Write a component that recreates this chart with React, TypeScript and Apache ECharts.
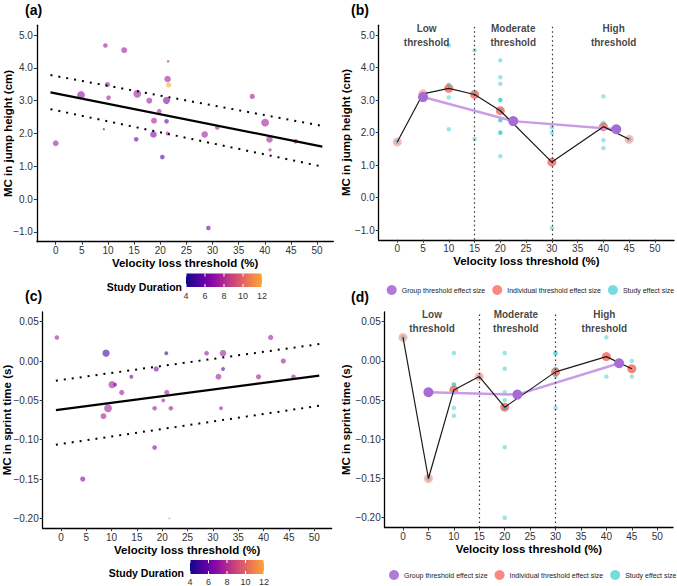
import React, { useEffect, useRef } from "react";
import * as echarts from "echarts";

const FONT = "'Liberation Sans', Arial, Helvetica, sans-serif";

// ---------- shared ticks / labels ----------
const xTicks = [0, 5, 10, 15, 20, 25, 30, 35, 40, 45, 50];
const yTicksJump = [-1, 0, 1, 2, 3, 4, 5];
const yTicksSprint = [-0.2, -0.15, -0.1, -0.05, 0, 0.05];
const durationTicks = [4, 6, 8, 10, 12];
const plasma = ["#0d0887", "#41049d", "#6a00a8", "#8f0da4", "#b12a90", "#cc4778", "#e16462", "#f2844b", "#fca636"];
const zoneBounds = [15, 30];
const zoneLabels = ["Low\nthreshold", "Moderate\nthreshold", "High\nthreshold"];
const zoneLabelXB = [5.7, 22.5, 42];
const zoneLabelXD = [5.7, 22.2, 39.6];
const legendNames = ["Group threshold effect size", "Individual threshold effect size", "Study effect size"];

// ---------- panel (a): jump height meta-regression ----------
const aThreshold = [0, 4.85, 9.5, 13.1, 9.9, 10.1, 9.2, 15.6, 15.4, 17.9, 18.8, 18.7, 19.8, 20.4, 21.2, 21.2, 21.4, 21.5, 21.6, 21.4, 28.5, 29.2, 30.9, 37.6, 40.05, 40.9, 41.0, 45.9];
const aEffect = [1.70, 3.17, 4.68, 4.54, 3.49, 3.09, 2.13, 3.21, 1.82, 3.0, 2.39, 1.97, 2.68, 1.28, 3.01, 2.37, 3.66, 4.2, 3.48, 2.0, 1.97, -0.88, 2.18, 3.13, 2.33, 1.82, 1.50, 1.76];
const aDuration = [7.5, 7, 7.5, 7.5, 7.5, 7.5, 4.5, 7.5, 6, 7.5, 7.5, 6.5, 7.5, 5, 6.5, 6, 7.5, 7.5, 12, 7.5, 7.5, 6, 7.5, 7.5, 7.5, 7.5, 7.5, 7.5];
const aWeight = [6, 9, 4, 6, 5, 4, 0.5, 9, 4, 6, 6, 7, 4, 4, 8, 4, 7, 1, 5, 3, 7, 4, 4, 5, 9, 7, 2, 4];
const fitX = [-1, 51];
const aFit = [3.25, 1.60];
const aUpper = [3.78, 2.23];
const aLower = [2.74, 0.99];

// ---------- panel (b): jump height by threshold ----------
const bStudyX = [0, 5, 10, 10, 10, 10, 15, 15, 15, 20, 20, 20, 20, 20, 20, 20, 20, 20, 20, 20, 30, 30, 30, 40, 40, 40, 40, 45];
const bStudyY = [1.71, 3.19, 4.68, 3.47, 3.08, 2.10, 4.53, 3.19, 1.80, 4.22, 3.70, 3.50, 3.0, 3.0, 2.68, 2.38, 2.38, 2.0, 1.99, 1.27, 2.16, 1.99, -0.94, 3.11, 2.30, 1.76, 1.52, 1.79];
const bIndivX = [0, 5, 10, 15, 20, 30, 40, 45];
const bIndivY = [1.71, 3.19, 3.36, 3.17, 2.67, 1.09, 2.18, 1.79];
const bGroupX = [5, 22.5, 42.5];
const bGroupY = [3.09, 2.35, 2.10];

// ---------- panel (c): sprint time meta-regression ----------
const cThreshold = [-0.8, 8.9, 20.8, 28.75, 32.0, 41.4, 43.9, 32.0, 18.8, 13.9, 31.1, 39.0, 45.9, 10.1, 10.7, 12.0, 20.9, 20.2, 9.3, 18.5, 21.7, 31.6, 8.4, 18.5, 4.3, 21.4];
const cEffect = [0.03, 0.01, 0.01, 0.01, 0.01, 0.03, 0.0, -0.01, -0.01, -0.02, -0.02, -0.02, -0.02, -0.03, -0.03, -0.04, -0.04, -0.05, -0.06, -0.06, -0.06, -0.06, -0.07, -0.11, -0.15, -0.20];
const cDuration = [7.5, 5, 5, 7.5, 7.5, 7.5, 7.5, 5.5, 6.5, 6, 7.5, 7.5, 7.5, 7.5, 6.5, 7.5, 7.5, 7.5, 7.5, 7.5, 7.5, 7.5, 7.5, 6.5, 6.5, 12];
const cWeight = [4, 8, 3, 4, 7, 5, 5, 3, 5, 3, 6, 5, 4, 8, 3, 5, 5, 3, 9, 4, 4, 3, 6, 4, 5, 0.5];
const cFit = [-0.0623, -0.0186];
const cUpper = [-0.025, 0.0216];
const cLower = [-0.1064, -0.0568];

// ---------- panel (d): sprint time by threshold ----------
const dStudyX = [0, 5, 10, 10, 10, 10, 10, 10, 15, 20, 20, 20, 20, 20, 20, 20, 20, 30, 30, 30, 30, 30, 40, 40, 45, 45];
const dStudyY = [0.03, -0.15, 0.01, -0.03, -0.03, -0.04, -0.06, -0.07, -0.02, 0.01, -0.01, -0.04, -0.05, -0.06, -0.06, -0.11, -0.20, 0.01, 0.01, -0.01, -0.02, -0.06, 0.03, -0.02, 0.0, -0.02];
const dIndivX = [0, 5, 10, 15, 20, 30, 40, 45];
const dIndivY = [0.03, -0.15, -0.037, -0.02, -0.059, -0.014, 0.0055, -0.01];
const dGroupX = [5, 22.5, 42.5];
const dGroupY = [-0.04, -0.043, -0.003];

// ---------- styling ----------
const PURPLE = "#a66bd6";
const PURPLE_LINE = "#c99be9";
const RED = "#f8766d";
const TEAL = "#00bfc4";

const grids = [
  { left: 36.9, top: 25.2, width: 296.4, height: 216.5 },
  { left: 378.7, top: 25.25, width: 295.3, height: 214.5 },
  { left: 42.7, top: 311.9, width: 289, height: 216.3 },
  { left: 384.7, top: 311.9, width: 288.3, height: 215.6 },
];
const xRanges = [[-3.6, 53.1], [-3.6, 53.7], [-3.6, 53.45], [-3.6, 53.1]];
const yRanges = [[-1.3, 5.3], [-1.3, 5.3], [-0.2125, 0.0625], [-0.2125, 0.0625]];
const yNames = ["MC in jump height (cm)", "MC in jump height (cm)", "MC in sprint time (s)", "MC in sprint time (s)"];
const yNameGaps = [22.5, 27, 30, 32.5];

const minus = (s: string) => s.replace("-", "\u2212");
const sizeOf = (w: number) => 2 + 0.65 * w;
const zip = (xs: number[], ys: number[]) => xs.map((x, i) => [x, ys[i]]);

function xAxis(i: number) {
  return {
    type: "value",
    gridIndex: i,
    min: xRanges[i][0],
    max: xRanges[i][1],
    name: "Velocity loss threshold (%)",
    nameLocation: "middle",
    nameGap: 15.5,
    nameMoveOverlap: false,
    nameTextStyle: { fontFamily: FONT, fontSize: 11.5, fontWeight: "bold", color: "#000" },
    axisLine: { show: true, onZero: false, lineStyle: { color: "#000", width: 1.3 } },
    axisTick: { show: true, customValues: xTicks, length: 3, lineStyle: { color: "#333", width: 1 } },
    axisLabel: { customValues: xTicks, margin: 4, fontFamily: FONT, fontSize: 10, color: "#333" },
    splitLine: { show: false },
  };
}

function yAxis(i: number) {
  const sprint = i >= 2;
  const ticks = sprint ? yTicksSprint : yTicksJump;
  return {
    type: "value",
    gridIndex: i,
    min: yRanges[i][0],
    max: yRanges[i][1],
    name: yNames[i],
    nameLocation: "middle",
    nameGap: yNameGaps[i],
    nameMoveOverlap: false,
    nameTextStyle: { fontFamily: FONT, fontSize: 11.5, fontWeight: "bold", color: "#000" },
    axisLine: { show: true, onZero: false, lineStyle: { color: "#000", width: 1.3 } },
    axisTick: { show: true, customValues: ticks, length: 3, lineStyle: { color: "#333", width: 1 } },
    axisLabel: {
      customValues: ticks,
      margin: 4,
      fontFamily: FONT,
      fontSize: 10,
      color: "#333",
      formatter: (v: number) => minus(v.toFixed(sprint ? 2 : 1)),
    },
    splitLine: { show: false },
  };
}

function lineSeries(i: number, ys: number[], dotted: boolean) {
  return {
    type: "line",
    xAxisIndex: i,
    yAxisIndex: i,
    data: zip(fitX, ys),
    showSymbol: false,
    symbol: "none",
    silent: true,
    lineStyle: dotted ? { color: "#000", width: 2, type: [2, 6] } : { color: "#000", width: 2.2 },
    z: 3,
  };
}

function thresholdSeries(
  i: number,
  studyX: number[], studyY: number[],
  indivX: number[], indivY: number[],
  groupX: number[], groupY: number[],
  labelX: number[], labelY: number
) {
  const counts = indivX.map((x) => studyX.filter((s) => s === x).length);
  return [
    {
      name: legendNames[1],
      type: "scatter",
      xAxisIndex: i,
      yAxisIndex: i,
      symbolSize: 9,
      data: indivX.map((x, k) => ({
        value: [x, indivY[k]],
        itemStyle: { color: RED, opacity: counts[k] > 1 ? 0.9 : 0.5 },
      })),
      z: 2,
    },
    {
      name: legendNames[2],
      type: "scatter",
      xAxisIndex: i,
      yAxisIndex: i,
      symbolSize: 4.5,
      itemStyle: { color: TEAL, opacity: 0.4 },
      data: zip(studyX, studyY),
      z: 3,
    },
    {
      name: "group-line",
      type: "line",
      xAxisIndex: i,
      yAxisIndex: i,
      data: zip(groupX, groupY),
      showSymbol: false,
      symbol: "none",
      silent: true,
      lineStyle: { color: PURPLE_LINE, width: 2.5 },
      z: 4,
    },
    {
      name: "indiv-line",
      type: "line",
      xAxisIndex: i,
      yAxisIndex: i,
      data: zip(indivX, indivY),
      showSymbol: false,
      symbol: "none",
      silent: true,
      lineStyle: { color: "#1a1a1a", width: 1.2 },
      z: 5,
    },
    {
      name: legendNames[0],
      type: "scatter",
      xAxisIndex: i,
      yAxisIndex: i,
      symbolSize: 10,
      itemStyle: { color: PURPLE, opacity: 1 },
      data: zip(groupX, groupY),
      z: 6,
    },
    {
      name: "zones",
      type: "scatter",
      xAxisIndex: i,
      yAxisIndex: i,
      symbolSize: 0.1,
      silent: true,
      itemStyle: { color: "rgba(0,0,0,0)" },
      data: labelX.map((x, k) => ({ value: [x, labelY], name: zoneLabels[k] })),
      label: {
        show: true,
        position: "inside",
        formatter: (p: any) => p.name,
        fontFamily: FONT,
        fontSize: 10,
        fontWeight: "bold",
        lineHeight: 14,
        color: "#111",
        align: "center",
      },
      markLine: {
        silent: true,
        symbol: "none",
        label: { show: false },
        lineStyle: { color: "#333", width: 1.2, type: [1.5, 3] },
        data: zoneBounds.map((v) => ({ xAxis: v })),
      },
      z: 7,
    },
  ];
}

function colorbar(barLeft: number, barTop: number, barW: number, barH: number, labelY: number, titleRight: number, titleY: number) {
  const els: any[] = [];
  els.push({
    type: "rect",
    shape: { x: barLeft, y: barTop, width: barW, height: barH },
    style: {
      fill: {
        type: "linear", x: 0, y: 0, x2: 1, y2: 0,
        colorStops: plasma.map((c, k) => ({ offset: k / (plasma.length - 1), color: c })),
      },
    },
    silent: true,
  });
  const dMin = durationTicks[0];
  const dMax = durationTicks[durationTicks.length - 1];
  durationTicks.forEach((d) => {
    const x = barLeft + ((d - dMin) / (dMax - dMin)) * barW;
    els.push({ type: "line", shape: { x1: x, y1: barTop, x2: x, y2: barTop + 3 }, style: { stroke: "#fff", lineWidth: 1 }, silent: true });
    els.push({ type: "line", shape: { x1: x, y1: barTop + barH - 3, x2: x, y2: barTop + barH }, style: { stroke: "#fff", lineWidth: 1 }, silent: true });
    els.push({
      type: "text", x, y: labelY, silent: true,
      style: { text: String(d), fontFamily: FONT, fontSize: 9, fill: "#333", align: "center", verticalAlign: "middle", textAlign: "center", textVerticalAlign: "middle" },
    });
  });
  els.push({
    type: "text", x: titleRight, y: titleY, silent: true,
    style: { text: "Study Duration", fontFamily: FONT, fontSize: 10.5, fontWeight: "bold", fill: "#000", align: "right", verticalAlign: "middle", textAlign: "right", textVerticalAlign: "middle" },
  });
  return els;
}

function panelLabel(text: string, x: number, y: number) {
  return {
    type: "text", x, y, silent: true,
    style: { text, fontFamily: FONT, fontSize: 14, fontWeight: "bold", fill: "#000", align: "left", verticalAlign: "middle", textAlign: "left", textVerticalAlign: "middle" },
  };
}

function legendFor(left: number, top: number) {
  return {
    left, top,
    width: 320,
    orient: "horizontal",
    padding: 0,
    itemGap: 7,
    itemWidth: 10,
    itemHeight: 10,
    icon: "circle",
    selectedMode: false,
    textStyle: { fontFamily: FONT, fontSize: 7, color: "#222", padding: [0, 0, 0, 0] },
    data: [
      { name: legendNames[0], itemStyle: { color: PURPLE, opacity: 0.9 } },
      { name: legendNames[1], itemStyle: { color: RED, opacity: 0.85 } },
      { name: legendNames[2], itemStyle: { color: TEAL, opacity: 0.55 } },
    ],
  };
}

function buildOption() {
  const series: any[] = [];
  const aIdx = series.length;
  series.push({
    type: "scatter",
    xAxisIndex: 0,
    yAxisIndex: 0,
    data: aThreshold.map((x, k) => [x, aEffect[k], aDuration[k], aWeight[k]]),
    symbolSize: (v: number[]) => sizeOf(v[3]),
    itemStyle: { opacity: 0.6 },
    z: 2,
  });
  series.push(lineSeries(0, aFit, false), lineSeries(0, aUpper, true), lineSeries(0, aLower, true));
  series.push(...thresholdSeries(1, bStudyX, bStudyY, bIndivX, bIndivY, bGroupX, bGroupY, zoneLabelXB, 5.0));
  const cIdx = series.length;
  series.push({
    type: "scatter",
    xAxisIndex: 2,
    yAxisIndex: 2,
    data: cThreshold.map((x, k) => [x, cEffect[k], cDuration[k], cWeight[k]]),
    symbolSize: (v: number[]) => sizeOf(v[3]),
    itemStyle: { opacity: 0.6 },
    z: 2,
  });
  series.push(lineSeries(2, cFit, false), lineSeries(2, cUpper, true), lineSeries(2, cLower, true));
  series.push(...thresholdSeries(3, dStudyX, dStudyY, dIndivX, dIndivY, dGroupX, dGroupY, zoneLabelXD, 0.05));

  return {
    animation: false,
    backgroundColor: "#fff",
    textStyle: { fontFamily: FONT },
    grid: grids.map((g) => ({ ...g, containLabel: false, outerBoundsMode: "none" })),
    xAxis: [0, 1, 2, 3].map(xAxis),
    yAxis: [0, 1, 2, 3].map(yAxis),
    visualMap: [
      {
        type: "continuous",
        show: false,
        seriesIndex: [aIdx, cIdx],
        dimension: 2,
        min: durationTicks[0],
        max: durationTicks[durationTicks.length - 1],
        inRange: { color: plasma },
      },
    ],
    legend: [legendFor(386.7, 285), legendFor(389, 570)],
    graphic: [
      panelLabel("(a)", 25, 10),
      panelLabel("(b)", 351, 10),
      panelLabel("(c)", 25, 296),
      panelLabel("(d)", 351, 297),
      ...colorbar(186, 273.5, 76, 13.5, 296, 182, 287),
      ...colorbar(190, 560, 74, 14, 582, 184, 573),
    ],
    series,
  };
}

export default function App() {
  const ref = useRef<HTMLDivElement>(null);
  useEffect(() => {
    document.body.style.margin = "0";
    const chart = echarts.init(ref.current!, null, { renderer: "svg" });
    chart.setOption(buildOption() as any);
    return () => chart.dispose();
  }, []);
  return <div ref={ref} style={{ width: 677, height: 586 }} />;
}
